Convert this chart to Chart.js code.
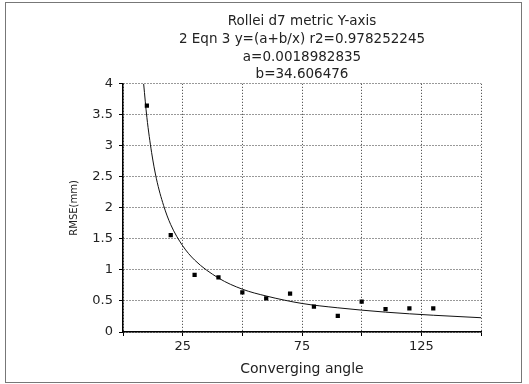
<!DOCTYPE html>
<html lang="en">
<head>
  <meta charset="UTF-8">
  <title>Rollei d7 metric Y-axis</title>
  <script src="https://cdn.jsdelivr.net/npm/chart.js"></script>
  <style>
    body {
      background-color: #ffffff;
      margin: 0;
      padding: 0;
    }
    canvas {
      display: block;
    }
  </style>
</head>
<body>

<canvas id="fitChart" width="529" height="384"></canvas>

<script>
  // measured points
  const angles = [10, 20, 30, 40, 50, 60, 70, 80, 90, 100, 110, 120, 130];
  const rmse = [3.65, 1.56, 0.92, 0.88, 0.64, 0.54, 0.62, 0.41, 0.26, 0.49, 0.37, 0.38, 0.38];

  // fitted curve
  const fitX = [8.65, 10, 12, 14, 17, 20, 25, 30, 40, 50, 60, 75, 90, 110, 130, 150];
  const fitY = [4.0, 3.46, 2.89, 2.47, 2.04, 1.73, 1.39, 1.16, 0.87, 0.69, 0.58, 0.46, 0.39, 0.32, 0.27, 0.23];

  const titleLines = [
    'Rollei d7 metric Y-axis',
    '2 Eqn 3 y=(a+b/x) r2=0.978252245',
    'a=0.0018982835',
    'b=34.606476'
  ];
  const xLabelled = [25, 75, 125];

  const framePlugin = {
    id: 'frame',
    beforeDraw(chart) {
      const ctx = chart.ctx;
      ctx.save();
      ctx.fillStyle = '#ffffff';
      ctx.fillRect(0, 0, chart.width, chart.height);
      ctx.strokeStyle = '#777777';
      ctx.lineWidth = 1;
      ctx.strokeRect(5.5, 2.5, 516, 380);
      ctx.restore();
    }
  };

  const textFont = { family: "'DejaVu Sans', sans-serif", size: 13 };

  const gridOpts = {
    color: '#333',
    tickLength: 4,
    tickColor: '#000',
    tickBorderDash: []
  };

  new Chart(document.getElementById('fitChart').getContext('2d'), {
    type: 'scatter',
    data: {
      datasets: [
        {
          label: 'RMSE',
          data: angles.map((a, i) => ({ x: a, y: rmse[i] })),
          pointStyle: 'rect',
          pointRadius: 3,
          backgroundColor: '#000',
          borderColor: '#000',
          borderWidth: 0
        },
        {
          label: 'fit',
          type: 'line',
          data: fitX.map((a, i) => ({ x: a, y: fitY[i] })),
          borderColor: '#111',
          borderWidth: 1,
          pointRadius: 0,
          cubicInterpolationMode: 'monotone',
          fill: false
        }
      ]
    },
    options: {
      responsive: false,
      animation: false,
      layout: { padding: { left: 0, right: 48, top: 0, bottom: 0 } },
      plugins: {
        legend: { display: false },
        tooltip: { enabled: false },
        title: {
          display: true,
          fullSize: false,
          text: titleLines,
          color: '#222',
          font: { family: "'DejaVu Sans', sans-serif", size: 13.5, weight: 'normal', lineHeight: '17.7px' },
          padding: { top: 13, bottom: 0 }
        }
      },
      scales: {
        x: {
          type: 'linear',
          min: 0,
          max: 150,
          afterFit: (s) => { s.height = 52; },
          ticks: {
            stepSize: 25,
            color: '#222',
            font: textFont,
            padding: 3,
            maxRotation: 0,
            callback: (v) => xLabelled.includes(v) ? String(v) : ''
          },
          grid: gridOpts,
          border: { display: true, color: '#000', width: 1.5, dash: [1, 2] },
          title: {
            display: true,
            text: 'Converging angle',
            color: '#222',
            font: { family: "'DejaVu Sans', sans-serif", size: 14 },
            padding: { top: 0, bottom: 6 }
          }
        },
        y: {
          min: 0,
          max: 4,
          afterFit: (s) => { s.width = 123; },
          ticks: {
            stepSize: 0.5,
            color: '#222',
            font: textFont,
            padding: 6,
            callback: (v) => String(v)
          },
          grid: gridOpts,
          border: { display: true, color: '#000', width: 1.5, dash: [1, 2] },
          title: {
            display: true,
            text: 'RMSE(mm)',
            color: '#222',
            font: { family: "'DejaVu Sans', sans-serif", size: 10 },
            padding: { top: 68, bottom: 0 }
          }
        }
      }
    },
    plugins: [framePlugin]
  });
</script>

</body>
</html>
